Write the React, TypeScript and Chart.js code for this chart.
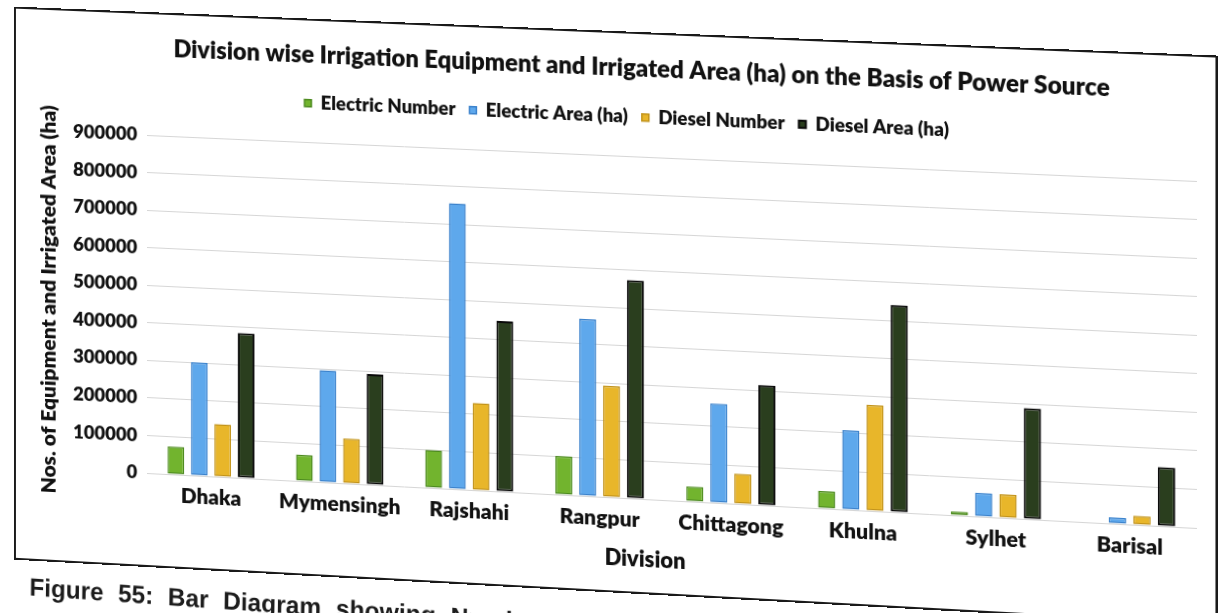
import React, { useEffect, useRef } from 'react';
import { Chart, registerables } from 'chart.js';

Chart.register(...registerables);

// ---- data -------------------------------------------------------------
const divisions = ['Dhaka', 'Mymensingh', 'Rajshahi', 'Rangpur', 'Chittagong', 'Khulna', 'Sylhet', 'Barisal'];
const electricNumber = [74000, 70000, 100000, 102000, 39000, 45000, 10000, 0];
const electricArea = [301000, 297000, 755000, 466000, 260000, 208000, 62000, 16000];
const dieselNumber = [140000, 119000, 230000, 293000, 79000, 277000, 61000, 23000];
const dieselArea = [385000, 293000, 450000, 574000, 315000, 541000, 289000, 153000];

const seriesNames = ['Electric Number', 'Electric Area (ha)', 'Diesel Number', 'Diesel Area (ha)'];
const yMin = 0;
const yMax = 900000;
const yStep = 100000;

const TITLE = 'Division wise Irrigation Equipment and Irrigated Area (ha) on the Basis of Power Source';
const Y_TITLE = 'Nos. of Equipment and Irrigated Area (ha)';
const X_TITLE = 'Division';
const CAPTION = 'Figure 55: Bar Diagram showing Number of Irrigation Equipment and Irrigated Area';

// ---- layout of the printed figure (flat page coordinates) -------------
const W = 1214;
const H = 545;
const FRAME_W = 1207;
const PLOT = { left: 133, right: 1183, top: 119, bottom: 457 };
const PAD_L = 12;
const TITLE_SIZE = 24;
const TITLE_BOX_H = 18 + TITLE_SIZE * 1.2 + 10;
const TITLE_CX = 629;
const LEGEND_CX = 617;
const X_TITLE_CX = 638;
const X_TITLE_CY = 517;

// where the plot corners land on the photographed sheet
const SHEET_PLOT = [
  [147, 135],
  [1197, 181],
  [1197, 528],
  [147, 473],
];

const INK = '#111111';
const FONT = 'Lato, "Noto Sans", sans-serif';
const WEIGHT = '800';

function sheetTransform(src: number[][], dst: number[][]): string {
  const A: number[][] = [];
  const b: number[] = [];
  for (let i = 0; i < 4; i++) {
    const [x, y] = src[i];
    const [X, Y] = dst[i];
    A.push([x, y, 1, 0, 0, 0, -x * X, -y * X]);
    b.push(X);
    A.push([0, 0, 0, x, y, 1, -x * Y, -y * Y]);
    b.push(Y);
  }
  const n = 8;
  for (let c = 0; c < n; c++) {
    let p = c;
    for (let r = c + 1; r < n; r++) if (Math.abs(A[r][c]) > Math.abs(A[p][c])) p = r;
    [A[c], A[p]] = [A[p], A[c]];
    [b[c], b[p]] = [b[p], b[c]];
    for (let r = 0; r < n; r++) {
      if (r === c) continue;
      const f = A[r][c] / A[c][c];
      for (let k = c; k < n; k++) A[r][k] -= f * A[c][k];
      b[r] -= f * b[c];
    }
  }
  const h = b.map((v, i) => v / A[i][i]);
  const [a, bb, c, d, e, f, g, hh] = h;
  return `matrix3d(${a},${d},0,${g},${bb},${e},0,${hh},0,0,1,0,${c},${f},0,1)`;
}

const headerPlugin = {
  id: 'headerPlacement',
  beforeInit(chart: any) {
    const legend = chart.legend;
    if (legend) {
      const fit = legend.fit.bind(legend);
      legend.fit = function () {
        fit();
        this.height = PLOT.top - TITLE_BOX_H;
      };
    }
  },
  afterLayout(chart: any) {
    const t = chart.titleBlock;
    if (t) {
      const dx = TITLE_CX - (t.left + t.right) / 2;
      t.left += dx;
      t.right += dx;
    }
    const l = chart.legend;
    if (l) {
      const dx = LEGEND_CX - (l.left + l.right) / 2;
      l.left += dx;
      l.right += dx;
    }
  },
  afterDraw(chart: any) {
    const ctx = chart.ctx;
    ctx.save();
    ctx.font = `${WEIGHT} 22px ${FONT}`;
    ctx.fillStyle = INK;
    ctx.textAlign = 'center';
    ctx.textBaseline = 'middle';
    ctx.fillText(X_TITLE, X_TITLE_CX, X_TITLE_CY);
    ctx.restore();
  },
};

function IrrigationChart() {
  const ref = useRef<HTMLCanvasElement | null>(null);

  useEffect(() => {
    if (!ref.current) return;
    const fills = ['#72b42e', '#5ea8ec', '#e8b62a', '#2a3e1e'];
    const borders = ['#4c8a1f', '#3b82cc', '#c2931a', '#0a0a0a'];
    const values = [electricNumber, electricArea, dieselNumber, dieselArea];

    const chart = new Chart(ref.current, {
      type: 'bar',
      data: {
        labels: divisions,
        datasets: values.map((data, i) => ({
          label: seriesNames[i],
          data,
          backgroundColor: fills[i],
          borderColor: borders[i],
          borderWidth: i === 3 ? 2 : 1.5,
          borderSkipped: false,
          categoryPercentage: 0.73,
          barPercentage: 0.71,
        })),
      },
      options: {
        responsive: false,
        maintainAspectRatio: false,
        animation: false,
        devicePixelRatio: 1,
        layout: { padding: { left: PAD_L, right: W - PLOT.right, top: 0, bottom: 0 } },
        plugins: {
          tooltip: { enabled: false },
          title: {
            display: true,
            text: TITLE,
            color: INK,
            font: { family: FONT, size: TITLE_SIZE, weight: WEIGHT, lineHeight: 1.2 },
            padding: { top: 18, bottom: 10 },
          },
          legend: {
            display: true,
            position: 'top',
            labels: {
              color: INK,
              font: { family: FONT, size: 18.8, weight: WEIGHT },
              boxWidth: 7,
              boxHeight: 7,
              padding: 14,
            },
          },
        },
        scales: {
          x: {
            grid: { display: false },
            border: { display: false },
            ticks: {
              color: INK,
              padding: 0,
              maxRotation: 0,
              autoSkip: false,
              font: { family: FONT, size: 21.2, weight: WEIGHT },
            },
            afterFit(scale: any) {
              scale.height = H - PLOT.bottom;
            },
          },
          y: {
            min: yMin,
            max: yMax,
            border: { display: false },
            grid: { color: '#d6d6d6', lineWidth: 1, drawTicks: false },
            ticks: {
              stepSize: yStep,
              color: INK,
              padding: 10,
              font: { family: FONT, size: 19, weight: WEIGHT },
              callback: (v: any) => String(v),
            },
            title: {
              display: true,
              text: Y_TITLE,
              color: INK,
              font: { family: FONT, size: 21, weight: WEIGHT },
              padding: { top: 8, bottom: 0 },
            },
            afterFit(scale: any) {
              scale.width = PLOT.left - PAD_L;
            },
          },
        },
      },
      plugins: [headerPlugin],
    });
    return () => chart.destroy();
  }, []);

  return (
    <canvas
      ref={ref}
      width={W}
      height={H}
      style={{ position: 'absolute', left: 0, top: 0, width: W, height: H }}
    />
  );
}

export default function App() {
  const plotSrc = [
    [PLOT.left, PLOT.top],
    [PLOT.right, PLOT.top],
    [PLOT.right, PLOT.bottom],
    [PLOT.left, PLOT.bottom],
  ];
  const transform = sheetTransform(plotSrc, SHEET_PLOT);

  return (
    <div style={{ position: 'fixed', inset: 0, background: '#ffffff', overflow: 'hidden' }}>
      <div
        style={{
          position: 'absolute',
          left: 0,
          top: 0,
          width: W,
          height: 640,
          transformOrigin: '0 0',
          transform,
        }}
      >
        <IrrigationChart />
        <div
          style={{
            position: 'absolute',
            left: -4,
            top: -4,
            width: FRAME_W,
            height: H + 10,
            border: '2px solid #1a1a1a',
            boxSizing: 'border-box',
            pointerEvents: 'none',
          }}
        />
        <div
          style={{
            position: 'absolute',
            left: 12,
            top: 565,
            whiteSpace: 'nowrap',
            font: 'bold 25px "Liberation Sans", Arial, sans-serif',
            lineHeight: '25px',
            wordSpacing: '8px',
            color: '#1c1c1c',
            transformOrigin: '0 50%',
            transform: 'rotate(0.8deg)',
          }}
        >
          {CAPTION}
        </div>
      </div>
    </div>
  );
}
